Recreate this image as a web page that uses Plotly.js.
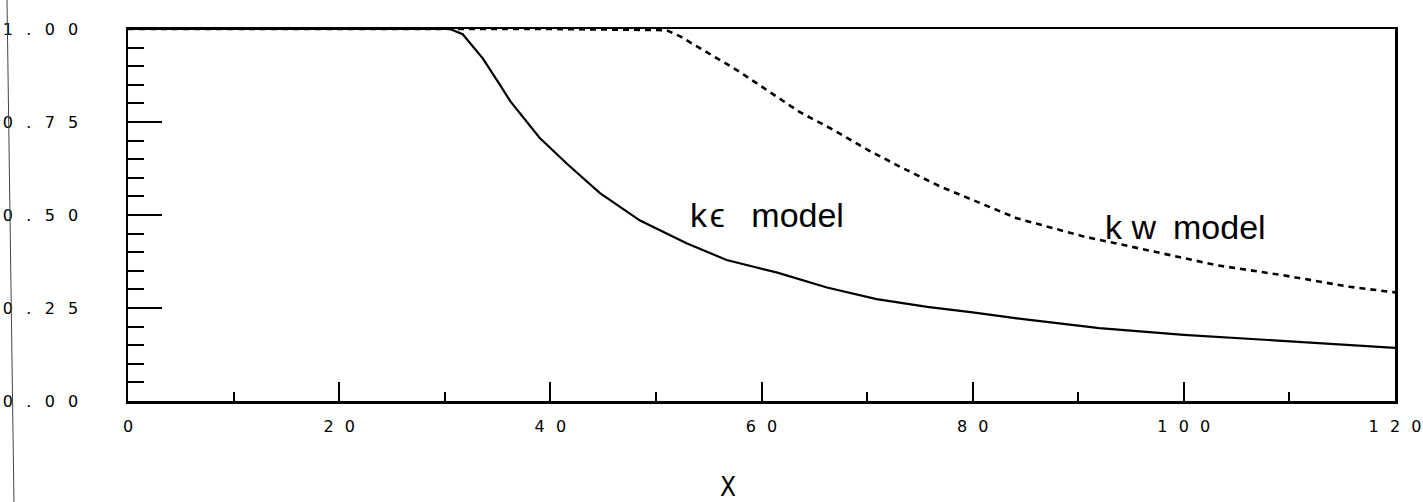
<!DOCTYPE html>
<html>
<head>
<meta charset="utf-8">
<script src="https://cdn.plot.ly/plotly-3.0.1.min.js"></script>
<style>html,body{margin:0;padding:0;background:#fff;}#chart{width:1423px;height:502px;}</style>
</head>
<body>
<div id="chart"></div>
<script>
// kε model (solid)
const keX = [0, 10, 20, 30, 30.5, 31.7, 33.6, 35.2, 36.2, 39.0, 41.6, 44.7, 48.5, 52.9, 56.7, 61.5, 66.2, 70.9, 75.7, 80, 84.2, 92, 100, 108, 116, 120];
const keY = [1, 1, 1, 1, 1, 0.986, 0.921, 0.851, 0.806, 0.707, 0.637, 0.559, 0.485, 0.424, 0.379, 0.345, 0.305, 0.274, 0.253, 0.238, 0.222, 0.196, 0.178, 0.164, 0.149, 0.143];
// kw model (dashed)
const kwX = [0, 20, 40, 51.0, 52.3, 54.5, 57.7, 60.5, 63.6, 66.8, 70.0, 73.1, 76.9, 84.2, 90.4, 96.8, 103.1, 109.4, 115.7, 120];
const kwY = [1, 1, 1, 0.997, 0.98, 0.943, 0.889, 0.836, 0.777, 0.729, 0.676, 0.630, 0.577, 0.491, 0.443, 0.404, 0.365, 0.338, 0.307, 0.292];

const xTickVals = [0, 20, 40, 60, 80, 100, 120];
const xTickText = ["0", "20", "40", "60", "80", "100", "120"];
const yTickVals = [0, 0.25, 0.5, 0.75, 1.0];
const yTickText = ["0.00", "0.25", "0.50", "0.75", "1.00"];
const labels = ["k\u200A\u03F5\u2002 model", "k w\u2002model"];
const axisTitle = "X";

const spacedX = s => s.split("").join("\u2002\u2009");
const spacedY = s => s.split("").join("\u2002\u2004");

const traces = [
  {x: keX, y: keY, type: "scatter", mode: "lines", line: {color: "#000", width: 2.2}, hoverinfo: "skip", showlegend: false},
  {x: kwX, y: kwY, type: "scatter", mode: "lines", line: {color: "#000", width: 2.6, dash: "6px,5px"}, hoverinfo: "skip", showlegend: false}
];

const tickFont = {family: "DejaVu Sans", size: 16, color: "#000"};

const layout = {
  width: 1423, height: 502,
  margin: {l: 128, r: 28, t: 29, b: 101},
  paper_bgcolor: "#fff", plot_bgcolor: "#fff",
  showlegend: false,
  xaxis: {
    range: [0, 120], showgrid: false, zeroline: false,
    showline: true, linecolor: "#000", linewidth: 2.5, mirror: true,
    ticks: "inside", ticklen: 19, tickwidth: 2, tickcolor: "#000",
    tickvals: xTickVals, ticktext: xTickText.map(spacedX), tickfont: tickFont,
    ticklabelstandoff: 9, ticklabeloverflow: "allow",
    minor: {dtick: 10, tick0: 0, ticks: "inside", ticklen: 9, tickwidth: 2, tickcolor: "#000", showgrid: false}
  },
  yaxis: {
    range: [0, 1], showgrid: false, zeroline: false,
    showline: true, linecolor: "#000", linewidth: 2.5, mirror: true,
    ticks: "inside", ticklen: 34, tickwidth: 2, tickcolor: "#000",
    tickvals: yTickVals, ticktext: yTickText.map(spacedY), tickfont: tickFont,
    ticklabelstandoff: 44, ticklabeloverflow: "allow",
    minor: {dtick: 0.05, tick0: 0, ticks: "inside", ticklen: 16, tickwidth: 2, tickcolor: "#000", showgrid: false}
  },
  annotations: [
    {x: 53.0, y: 0.50, xref: "x", yref: "y", text: labels[0], showarrow: false, xanchor: "left", yanchor: "middle",
     font: {family: "Liberation Sans, DejaVu Sans", size: 34, color: "#000"}},
    {x: 92.3, y: 0.468, xref: "x", yref: "y", text: labels[1], showarrow: false, xanchor: "left", yanchor: "middle",
     font: {family: "Liberation Sans, DejaVu Sans", size: 34, color: "#000"}},
    {x: 0.4736, y: -0.185, xref: "paper", yref: "paper", text: axisTitle, showarrow: false, xanchor: "center", yanchor: "top",
     font: {family: "Liberation Sans Narrow, DejaVu Sans Condensed, Liberation Sans", size: 26, color: "#000"}}
  ],
  shapes: [
    {type: "line", xref: "paper", yref: "paper", x0: -0.0955, x1: -0.09, y0: 1.078, y1: -0.2715, line: {color: "#444", width: 1}}
  ]
};

Plotly.newPlot("chart", traces, layout, {staticPlot: true, displayModeBar: false});
</script>
</body>
</html>
